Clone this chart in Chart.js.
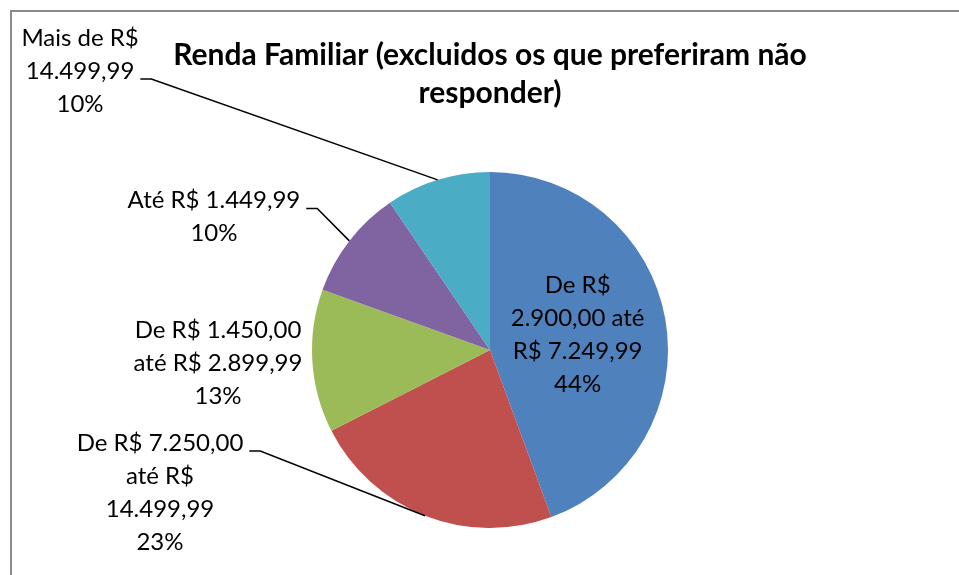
<!DOCTYPE html>
<html>
<head>
<meta charset="utf-8">
<script src="https://cdn.jsdelivr.net/npm/chart.js@4.4.0/dist/chart.umd.min.js"></script>
<style>
  html, body { margin: 0; padding: 0; background: #ffffff; }
  #wrap { width: 959px; height: 575px; position: relative; }
</style>
</head>
<body>
<div id="wrap"><canvas id="c" width="959" height="575"></canvas></div>
<script>
// ---- data ----
const titleLines = ['Renda Familiar (excluidos os que preferiram não', 'responder)'];
const categories = [
  'De R$ 2.900,00 até R$ 7.249,99',
  'De R$ 7.250,00 até R$ 14.499,99',
  'De R$ 1.450,00 até R$ 2.899,99',
  'Até R$ 1.449,99',
  'Mais de R$ 14.499,99'
];
const labelLines = [
  ['De R$', '2.900,00 até', 'R$ 7.249,99'],
  ['De R$ 7.250,00', 'até R$', '14.499,99'],
  ['De R$ 1.450,00', 'até R$ 2.899,99'],
  ['Até R$ 1.449,99'],
  ['Mais de R$', '14.499,99']
];
const values = [44.4, 23.1, 13.0, 10.0, 9.5];
const percentLabels = ['44%', '23%', '13%', '10%', '10%'];
const colors = ['#4F81BD', '#C0504D', '#9BBB59', '#8064A2', '#4BACC6'];

// ---- label layout (relative to pie centre, in units of radius) ----
const labelLayout = [
  { inside: true, r: 0.5 },
  { dx: -1.854, dy: 0.801, leader: 0 },
  { dx: -1.528, dy: 0.073 },
  { dx: -1.551, dy: -0.747, leader: 0 },
  { dx: -2.303, dy: -1.567, leader: 1 }
];
const FONT = '24px Lato, "Open Sans", sans-serif';
const TITLE_FONT = 'bold 30px Lato, "Open Sans", sans-serif';
const LINE_H = 33;

const framePlugin = {
  id: 'frame',
  beforeDraw(chart) {
    const ctx = chart.ctx;
    ctx.save();
    ctx.fillStyle = '#ffffff';
    ctx.fillRect(0, 0, chart.width, chart.height);
    ctx.strokeStyle = '#8a8a8a';
    ctx.lineWidth = 2;
    ctx.strokeRect(11, 11, chart.width + 20, chart.height + 20);
    ctx.restore();
  }
};

const labelPlugin = {
  id: 'sliceLabels',
  afterDatasetsDraw(chart) {
    const ctx = chart.ctx;
    const meta = chart.getDatasetMeta(0);
    ctx.save();
    ctx.font = FONT;
    ctx.fillStyle = '#000000';
    ctx.textAlign = 'center';
    ctx.textBaseline = 'middle';
    meta.data.forEach((arc, i) => {
      const p = arc.getProps(['x', 'y', 'startAngle', 'endAngle', 'outerRadius'], true);
      const mid = (p.startAngle + p.endAngle) / 2;
      const R = p.outerRadius;
      const L = labelLayout[i];
      const lines = labelLines[i].concat([percentLabels[i]]);
      let bx, by;
      if (L.inside) {
        bx = p.x + Math.cos(mid) * R * L.r;
        by = p.y + Math.sin(mid) * R * L.r;
      } else {
        bx = p.x + L.dx * R;
        by = p.y + L.dy * R;
      }
      const n = lines.length;
      lines.forEach((t, k) => {
        ctx.fillText(t, bx, by + (k - (n - 1) / 2) * LINE_H);
      });
      if (L.leader !== undefined) {
        const k = L.leader;
        const w = ctx.measureText(lines[k]).width;
        const ly = by + (k - (n - 1) / 2) * LINE_H + 8;
        const sx = bx + w / 2 + 6;
        const ex = p.x + Math.cos(mid) * R;
        const ey = p.y + Math.sin(mid) * R;
        ctx.beginPath();
        ctx.strokeStyle = '#000000';
        ctx.lineWidth = 1.5;
        ctx.moveTo(sx, ly);
        ctx.lineTo(sx + 11, ly);
        ctx.lineTo(ex, ey);
        ctx.stroke();
      }
    });
    // title
    ctx.font = TITLE_FONT;
    const tx = meta.data[0].x;
    ctx.fillText(titleLines[0], tx, 55);
    ctx.fillText(titleLines[1], tx, 93);
    ctx.restore();
  }
};

new Chart(document.getElementById('c'), {
  type: 'pie',
  data: {
    labels: categories,
    datasets: [{
      data: values,
      backgroundColor: colors,
      borderWidth: 0,
      hoverOffset: 0,
      offset: 0
    }]
  },
  options: {
    responsive: false,
    animation: false,
    events: [],
    layout: { padding: { left: 312, right: 291, top: 172, bottom: 47 } },
    plugins: {
      legend: { display: false },
      title: { display: false },
      tooltip: { enabled: false }
    }
  },
  plugins: [framePlugin, labelPlugin]
});
</script>
</body>
</html>
